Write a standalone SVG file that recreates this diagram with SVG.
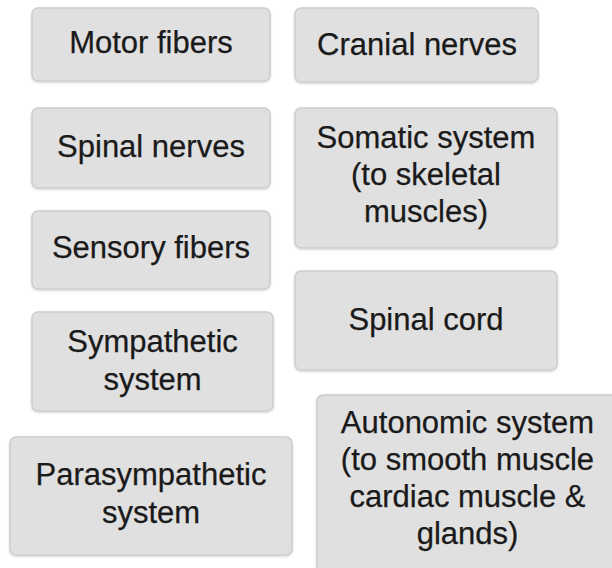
<svg xmlns="http://www.w3.org/2000/svg" width="612" height="568" viewBox="0 0 612 568">
<defs>
<filter id="sh" x="-5%" y="-5%" width="110%" height="115%">
<feDropShadow dx="0" dy="1" stdDeviation="1" flood-color="#000" flood-opacity="0.18"/>
</filter>
</defs>
<style>
.box{fill:#e0e0e0;stroke:#cdcdcd;stroke-width:1.5;filter:url(#sh)}
.t{font-family:"Liberation Sans",Arial,sans-serif;font-size:31px;fill:#1a1a1a;stroke:#1a1a1a;stroke-width:0.25;text-anchor:middle}
</style>
<rect width="612" height="568" fill="#fff"/>
<g id="connectors"></g>
<g id="motor-fibers">
<rect class="box" x="32" y="8" width="238" height="73" rx="6"/>
<text class="t" x="151" y="53">Motor fibers</text>
</g>
<g id="cranial-nerves">
<rect class="box" x="295" y="8" width="243" height="74" rx="6"/>
<text class="t" x="417" y="55">Cranial nerves</text>
</g>
<g id="spinal-nerves">
<rect class="box" x="32" y="108" width="238" height="80" rx="6"/>
<text class="t" x="151" y="157">Spinal nerves</text>
</g>
<g id="somatic-system">
<rect class="box" x="295" y="108" width="262" height="140" rx="6"/>
<text class="t" x="426" y="148">Somatic system</text>
<text class="t" x="426" y="185">(to skeletal</text>
<text class="t" x="426" y="222">muscles)</text>
</g>
<g id="sensory-fibers">
<rect class="box" x="32" y="211" width="238" height="78" rx="6"/>
<text class="t" x="151" y="258">Sensory fibers</text>
</g>
<g id="spinal-cord">
<rect class="box" x="295" y="271" width="262" height="99" rx="6"/>
<text class="t" x="426" y="330">Spinal cord</text>
</g>
<g id="sympathetic-system">
<rect class="box" x="32" y="312" width="241" height="99" rx="6"/>
<text class="t" x="152.5" y="352">Sympathetic</text>
<text class="t" x="152.5" y="390">system</text>
</g>
<g id="autonomic-system">
<rect class="box" x="317" y="395" width="302" height="190" rx="6"/>
<text class="t" x="467.5" y="433">Autonomic system</text>
<text class="t" x="467.5" y="470">(to smooth muscle</text>
<text class="t" x="467.5" y="507">cardiac muscle &amp;</text>
<text class="t" x="467.5" y="544">glands)</text>
</g>
<g id="parasympathetic-system">
<rect class="box" x="10" y="437" width="282" height="118" rx="6"/>
<text class="t" x="151" y="485">Parasympathetic</text>
<text class="t" x="151" y="523">system</text>
</g>
</svg>
